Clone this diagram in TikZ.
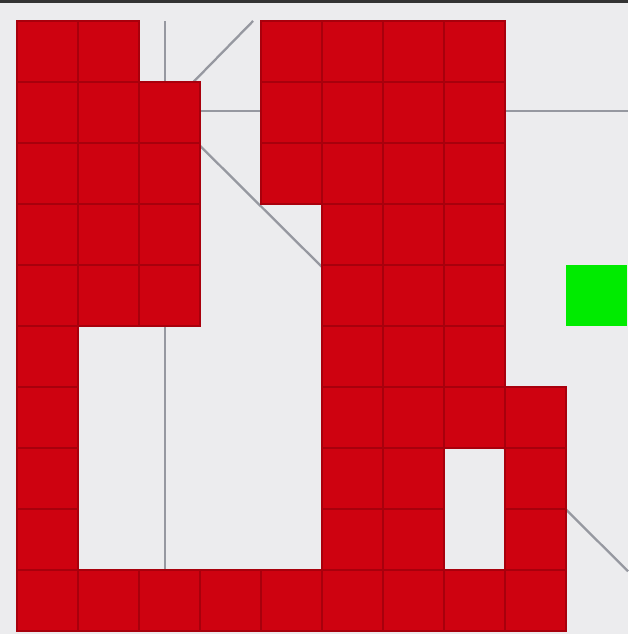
\documentclass[tikz,border=0pt]{standalone}
\definecolor{bgcol}{RGB}{236,236,238}
\definecolor{wallred}{RGB}{206,2,16}
\definecolor{walledge}{RGB}{168,0,12}
\definecolor{tracegray}{RGB}{150,152,160}
\definecolor{goalgreen}{RGB}{0,235,0}
\tikzset{
  wall/.style={fill=wallred, draw=walledge, line width=0.8pt},
  goal/.style={fill=goalgreen, draw=none},
  trace/.style={draw=tracegray, line width=1.3pt}
}
\begin{document}
\begin{tikzpicture}[x=1.22cm, y=-1.22cm]
\useasboundingbox (-0.279,-0.344) rectangle (10.016,10.049);
\fill[bgcol] (-0.279,-0.344) rectangle (10.016,10.049);
\fill[black!80] (-0.279,-0.344) rectangle (10.016,-0.295);
% lines under the grid
\coordinate (hub) at (2.426,1.475);
\draw[trace] (hub) -- (2.426,0);
\draw[trace] (hub) -- (2.426,9);
\draw[trace] (hub) -- (10.016,1.475);
\draw[trace] (hub) -- (3.87,0);
\draw[trace] (hub) -- (10.016,9.02);
% occupied cells, row by row
\foreach \r/\cols in {0/{0,1,4,5,6,7}, 1/{0,1,2,4,5,6,7}, 2/{0,1,2,4,5,6,7},
  3/{0,1,2,5,6,7}, 4/{0,1,2,5,6,7}, 5/{0,5,6,7}, 6/{0,5,6,7,8},
  7/{0,5,6,8}, 8/{0,5,6,8}, 9/{0,1,2,3,4,5,6,7,8}}
  \foreach \c in \cols
    \draw[wall] (\c,\r) rectangle ++(1,1);
\fill[goal] (9,4) rectangle ++(1,1);
\end{tikzpicture}
\end{document}
